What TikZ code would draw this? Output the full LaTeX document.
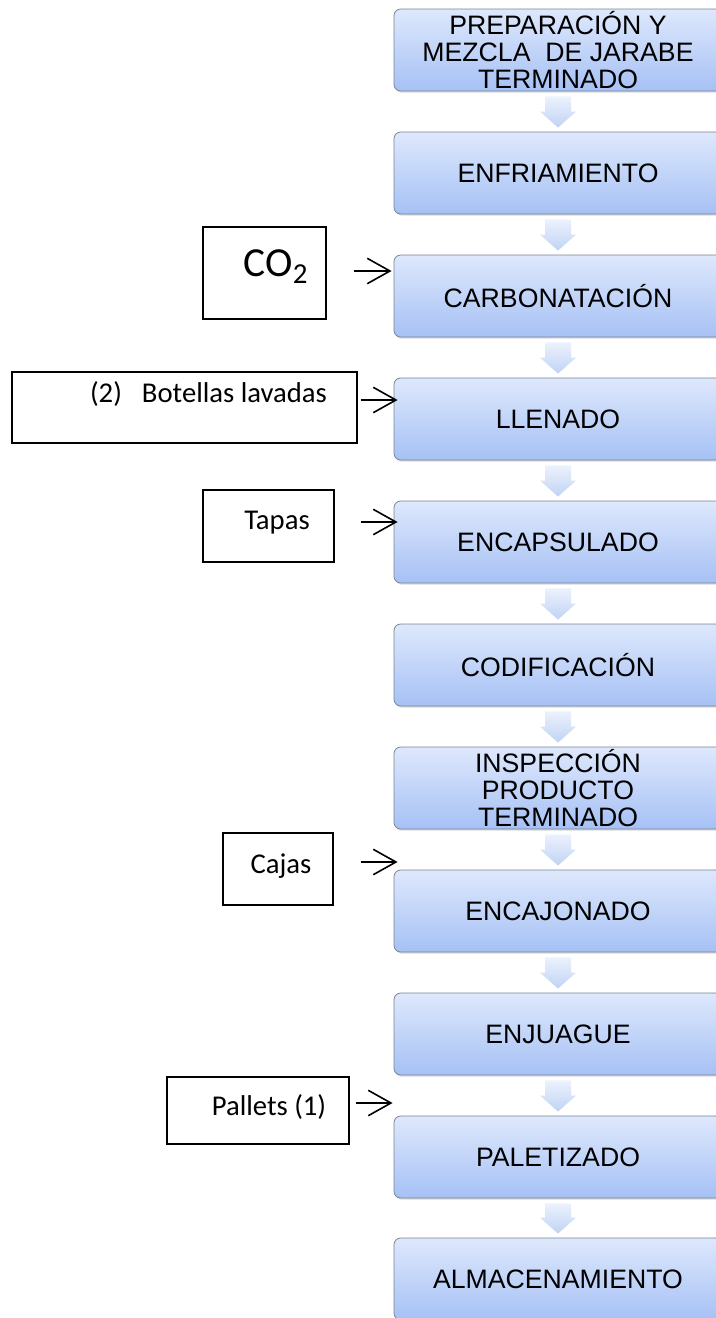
\documentclass[tikz,border=0pt]{standalone}
\usepackage{fontspec}
\setmainfont{Liberation Sans}
\newfontfamily\calibrifont{Carlito}
\usetikzlibrary{calc,arrows.meta,shadows}

\definecolor{stepTop}{RGB}{222,232,252}
\definecolor{stepBottom}{RGB}{166,193,245}
\definecolor{stepBorder}{RGB}{120,132,150}
\definecolor{chevronTop}{RGB}{236,242,253}
\definecolor{chevronBottom}{RGB}{192,211,244}

\begin{document}
\begin{tikzpicture}
[x=0.75pt,y=-0.75pt,%
  stepDecorate/.style={shape=rectangle,rounded corners=5pt,draw=stepBorder,line width=0.6pt,
    top color=stepTop,bottom color=stepBottom,minimum width=246pt,minimum height=61.5pt,
    inner sep=0pt,align=center,font=\fontsize{20}{20.5}\selectfont,
    drop shadow={shadow xshift=0.8pt,shadow yshift=-1.2pt,opacity=0.3}},%
  chevronDecorate/.style={top color=chevronTop,bottom color=chevronBottom,draw=none},%
  feedDecorate/.style={shape=rectangle,draw,line width=1.1pt,fill=white,inner sep=0pt},%
  feedText/.style={anchor=base,inner sep=0pt,font=\calibrifont\fontsize{21.5}{25}\selectfont},%
  feedArrow/.style={-{Straight Barb[length=17pt,width=19pt]},line width=1.2pt}]
\useasboundingbox (0,0) rectangle (715,1318);
%% process steps
\foreach \nodename/\y/\txt in {prep/50/{PREPARACIÓN Y\\MEZCLA~ DE JARABE\\TERMINADO},
  enfr/173/ENFRIAMIENTO, carb/296/CARBONATACIÓN, llen/419/LLENADO,
  enca/542/ENCAPSULADO, codi/665/CODIFICACIÓN,
  insp/788/{INSPECCIÓN\\PRODUCTO\\TERMINADO}, encj/911/ENCAJONADO,
  enju/1034/ENJUAGUE, pale/1157/PALETIZADO, alma/1279/ALMACENAMIENTO}
{
  \node (\nodename) at (558,\y) [stepDecorate] {\txt};
}
%% chevrons between steps
\foreach \startnode/\endnode in {prep/enfr, enfr/carb, carb/llen, llen/enca, enca/codi,
  codi/insp, insp/encj, encj/enju, enju/pale, pale/alma}
{
  \path[chevronDecorate] ($(\startnode.south)+(-13,5)$) -- ($(\startnode.south)+(13,5)$)
    -- ($(\endnode.north)+(13,-20)$) -- ($(\endnode.north)+(18,-20)$)
    -- ($(\endnode.north)+(0,-4)$) -- ($(\endnode.north)+(-18,-20)$)
    -- ($(\endnode.north)+(-13,-20)$) -- cycle;
}
%% inputs
\node (co2) at (264.5,273) [feedDecorate,minimum width=92.25pt,minimum height=69pt] {};
\node (bot) at (184.5,407.5) [feedDecorate,minimum width=258.75pt,minimum height=53.25pt] {};
\node (tap) at (268.5,526) [feedDecorate,minimum width=98.25pt,minimum height=54pt] {};
\node (caj) at (278,869) [feedDecorate,minimum width=82.5pt,minimum height=54pt] {};
\node (pal) at (258,1110.5) [feedDecorate,minimum width=136.5pt,minimum height=50.25pt] {};
\node (co2txt) at ($(co2.center)+(11.5,3)$) [feedText,font=\calibrifont\fontsize{31}{36}\selectfont] {CO\textsubscript{2}};
\node (bottxt) at ($(bot.center)+(24,-5.5)$) [feedText] {(2)\hspace{0.7em}Botellas lavadas};
\node (taptxt) at ($(tap.center)+(8.5,3)$) [feedText] {Tapas};
\node (cajtxt) at ($(caj.center)+(3,4)$) [feedText] {Cajas};
\node (paltxt) at ($(pal.center)+(11,4.5)$) [feedText] {Pallets (1)};
%% input arrows
\foreach \feed/\target/\dy/\sx/\ex in {co2/carb/-2/27/-2, bot/llen/-7.5/3/4,
  tap/enca/-4/26/4, caj/encj/-7/27/4, pal/pale/-7.5/6/-1}
{
  \draw[feedArrow] ($(\feed.east)+(\sx,\dy)$) -- ($(\feed.center -| \target.west)+(\ex,\dy)$);
}
\end{tikzpicture}
\end{document}
